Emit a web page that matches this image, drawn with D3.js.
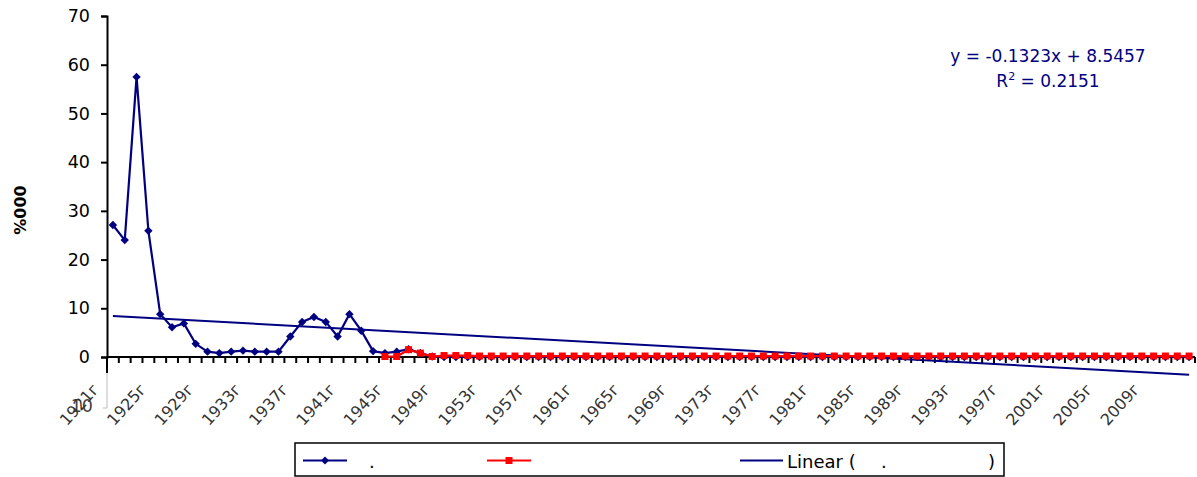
<!DOCTYPE html>
<html>
<head>
<meta charset="utf-8">
<script src="https://cdnjs.cloudflare.com/ajax/libs/d3/7.8.5/d3.min.js"></script>
<style>
  body { margin: 0; background: #fff; }
  svg text { font-family: "DejaVu Sans", Verdana, sans-serif; }
</style>
</head>
<body>
<div id="chart"></div>
<script>
var width = 1197;
var height = 477;

// years on the category axis, 1921 .. 2012
var years = [];
for (var yr = 1921; yr <= 2012; yr++) years.push(yr);

var tickLabels = ["1921г", "1925г", "1929г", "1933г", "1937г", "1941г", "1945г", "1949г",
    "1953г", "1957г", "1961г", "1965г", "1969г", "1973г", "1977г", "1981г", "1985г",
    "1989г", "1993г", "1997г", "2001г", "2005г", "2009г"];

var yTicks = [0, 10, 20, 30, 40, 50, 60, 70];

// blue series, 1921 .. 2012
var blueValues = [27.1, 24.0, 57.5, 25.9, 8.8, 6.1, 6.9, 2.7, 1.1, 0.8,
    1.1, 1.3, 1.1, 1.1, 1.1, 4.2, 7.2, 8.2, 7.2, 4.2,
    8.8, 5.4, 1.2, 0.8, 1.1, 1.6, 0.8, 0.1, 0.0, 0.0,
    0.0, 0.0, 0.0, 0.0, 0.0, 0.0, 0.0, 0.0, 0.0, 0.0,
    0.0, 0.0, 0.0, 0.0, 0.0, 0.0, 0.0, 0.0, 0.0, 0.0,
    0.0, 0.0, 0.0, 0.0, 0.0, 0.0, 0.0, 0.0, 0.0, 0.0,
    0.0, 0.0, 0.0, 0.0, 0.0, 0.0, 0.0, 0.0, 0.0, 0.0,
    0.0, 0.0, 0.0, 0.0, 0.0, 0.0, 0.0, 0.0, 0.0, 0.0,
    0.0, 0.0, 0.0, 0.0, 0.0, 0.0, 0.0, 0.0, 0.0, 0.0,
    0.0, 0.0];

// red series, starts in 1944
var redYears = [];
for (var ry = 1944; ry <= 2012; ry++) redYears.push(ry);
var redValues = [0.1, 0.1, 1.5, 0.8, 0.1, 0.3, 0.3, 0.3, 0.2, 0.2,
    0.2, 0.2, 0.2, 0.2, 0.2, 0.2, 0.2, 0.2, 0.2, 0.2,
    0.2, 0.2, 0.2, 0.2, 0.2, 0.2, 0.2, 0.2, 0.2, 0.2,
    0.2, 0.2, 0.2, 0.2, 0.2, 0.2, 0.2, 0.2, 0.2, 0.2,
    0.2, 0.2, 0.2, 0.2, 0.2, 0.2, 0.2, 0.2, 0.2, 0.2,
    0.2, 0.2, 0.2, 0.2, 0.2, 0.2, 0.2, 0.2, 0.2, 0.2,
    0.2, 0.2, 0.2, 0.2, 0.2, 0.2, 0.2, 0.2, 0.2];

// linear trend shown on the chart
var trendSlope = -0.1323;
var trendIntercept = 8.5457;
var trendR2 = 0.2151;

var navy = "#000080";
var red = "#ff0000";

var plotLeft = 107, plotRight = 1195, plotTop = 16, plotBottom = 357;

var x = d3.scaleBand().domain(years).range([plotLeft, plotRight]).padding(0);
var y = d3.scaleLinear().domain([0, 70]).range([plotBottom, plotTop]);
var cx = function (yr) { return x(yr) + x.bandwidth() / 2; };

var svg = d3.select("#chart")
    .append("svg")
    .attr("width", width)
    .attr("height", height);

// y axis
var yAxis = svg.append("g")
    .attr("transform", "translate(" + plotLeft + ",0)")
    .call(d3.axisLeft(y).tickValues(yTicks).tickSize(6).tickPadding(11));
yAxis.select(".domain").attr("stroke", "#000").attr("stroke-width", 2);
yAxis.selectAll(".tick line").attr("stroke", "#000").attr("stroke-width", 2);
yAxis.selectAll(".tick text").attr("font-size", 17.5).attr("fill", "#000")
    .style("font-family", "'DejaVu Sans', Verdana, sans-serif");

// the y axis runs on below the category axis
svg.append("line")
    .attr("x1", plotLeft).attr("x2", plotLeft)
    .attr("y1", plotBottom).attr("y2", plotBottom + 16)
    .attr("stroke", "#000").attr("stroke-width", 2);
svg.append("line")
    .attr("x1", plotLeft).attr("x2", plotLeft)
    .attr("y1", plotBottom + 16).attr("y2", 408)
    .attr("stroke", "#bbb").attr("stroke-width", 1);
svg.append("line")
    .attr("x1", plotLeft - 4).attr("x2", plotLeft)
    .attr("y1", 408).attr("y2", 408)
    .attr("stroke", "#bbb").attr("stroke-width", 1);
svg.append("text")
    .attr("x", 93).attr("y", 412)
    .attr("text-anchor", "end")
    .attr("font-size", 17.5)
    .attr("fill", "#444")
    .text("10");

// y title
svg.append("text")
    .attr("transform", "translate(26,210) rotate(-90)")
    .attr("text-anchor", "middle")
    .attr("font-size", 16)
    .attr("font-weight", "bold")
    .text("%000");

// x axis
var xAxis = svg.append("g")
    .attr("transform", "translate(0," + plotBottom + ")");
xAxis.append("line")
    .attr("x1", plotLeft).attr("x2", plotRight)
    .attr("stroke", "#000").attr("stroke-width", 2);
xAxis.selectAll(".xtick")
    .data(years.concat(["end"]))
    .enter()
    .append("line")
    .attr("class", "xtick")
    .attr("x1", function (d) { return d === "end" ? plotRight : x(d); })
    .attr("x2", function (d) { return d === "end" ? plotRight : x(d); })
    .attr("y1", 0).attr("y2", 6)
    .attr("stroke", "#000").attr("stroke-width", 2);

var xLabels = svg.selectAll(".xlabel")
    .data(tickLabels)
    .enter()
    .append("g")
    .attr("class", "xlabel")
    .attr("transform", function (d) {
        return "translate(" + (cx(parseInt(d, 10)) - 13) + ",390)";
    });
xLabels.append("text")
    .attr("transform", "rotate(-48)")
    .attr("text-anchor", "end")
    .attr("font-size", 16)
    .attr("fill", "#333")
    .text(function (d) { return d; });

// trend line
var first = years[0], last = years[years.length - 1];
var trend = function (i) { return trendSlope * i + trendIntercept; };
svg.append("line")
    .attr("x1", cx(first)).attr("y1", y(trend(1)))
    .attr("x2", cx(last)).attr("y2", y(trend(years.length)))
    .attr("stroke", navy).attr("stroke-width", 2);

var diamond = function (s) {
    return "M0," + (-s) + "L" + s + ",0L0," + s + "L" + (-s) + ",0Z";
};

// blue series
var blueLine = d3.line()
    .x(function (d, i) { return cx(years[i]); })
    .y(function (d) { return y(d); });

svg.append("path")
    .attr("d", blueLine(blueValues))
    .attr("fill", "none")
    .attr("stroke", navy)
    .attr("stroke-width", 2.2);

svg.selectAll(".bpt")
    .data(blueValues)
    .enter()
    .append("path")
    .attr("class", "bpt")
    .attr("d", diamond(4.2))
    .attr("transform", function (d, i) { return "translate(" + cx(years[i]) + "," + y(d) + ")"; })
    .attr("fill", navy);

// red series
var redLine = d3.line()
    .x(function (d, i) { return cx(redYears[i]); })
    .y(function (d) { return y(d); });

svg.append("path")
    .attr("d", redLine(redValues))
    .attr("fill", "none")
    .attr("stroke", red)
    .attr("stroke-width", 2.2);

svg.selectAll(".rpt")
    .data(redValues)
    .enter()
    .append("rect")
    .attr("class", "rpt")
    .attr("x", function (d, i) { return cx(redYears[i]) - 3.5; })
    .attr("y", function (d) { return y(d) - 3.5; })
    .attr("width", 7).attr("height", 7)
    .attr("fill", red);

// equation
svg.append("text")
    .attr("x", 1048).attr("y", 62)
    .attr("text-anchor", "middle")
    .attr("font-size", 17)
    .attr("fill", navy)
    .text("y = " + trendSlope + "x + " + trendIntercept);
var r2 = svg.append("text")
    .attr("x", 1048).attr("y", 87)
    .attr("text-anchor", "middle")
    .attr("font-size", 17)
    .attr("fill", navy);
r2.append("tspan").text("R");
r2.append("tspan").attr("dy", -7).attr("font-size", 11).text("2");
r2.append("tspan").attr("dy", 7).text(" = " + trendR2);

// legend
var legend = svg.append("g");
legend.append("rect")
    .attr("x", 295).attr("y", 443)
    .attr("width", 709).attr("height", 33)
    .attr("fill", "#fff")
    .attr("stroke", "#000").attr("stroke-width", 1.5);

var ly = 460.5;
legend.append("line").attr("x1", 303).attr("x2", 347).attr("y1", ly).attr("y2", ly)
    .attr("stroke", navy).attr("stroke-width", 2);
legend.append("path").attr("d", diamond(4))
    .attr("transform", "translate(325," + ly + ")").attr("fill", navy);
legend.append("text").attr("x", 369).attr("y", ly + 7).attr("font-size", 18).text(".");

legend.append("line").attr("x1", 487).attr("x2", 531).attr("y1", ly).attr("y2", ly)
    .attr("stroke", red).attr("stroke-width", 2);
legend.append("rect").attr("x", 505.5).attr("y", ly - 3.5)
    .attr("width", 7).attr("height", 7).attr("fill", red);

legend.append("line").attr("x1", 740).attr("x2", 783).attr("y1", ly).attr("y2", ly)
    .attr("stroke", navy).attr("stroke-width", 2);
legend.append("text").attr("x", 787).attr("y", ly + 7).attr("font-size", 18).text("Linear (");
legend.append("text").attr("x", 881).attr("y", ly + 7).attr("font-size", 18).text(".");
legend.append("text").attr("x", 988).attr("y", ly + 7).attr("font-size", 18).text(")");
</script>
</body>
</html>
